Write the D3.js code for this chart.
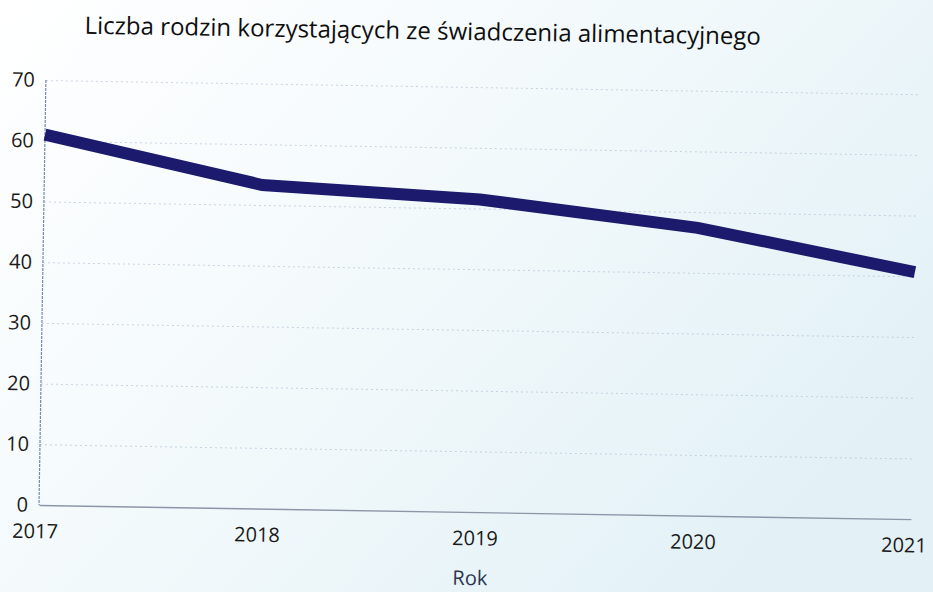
<!DOCTYPE html>
<html>
<head>
<meta charset="utf-8">
<script src="https://cdn.jsdelivr.net/npm/d3@7"></script>
<style>
  html, body { margin: 0; padding: 0; background: #ffffff; }
  svg { display: block; }
</style>
</head>
<body>
<svg id="chart" width="933" height="592"></svg>
<script>
// Number of families receiving the maintenance benefit, by year
const years = ["2017", "2018", "2019", "2020", "2021"];
const families = [61, 53.3, 51.5, 47.4, 40.7];
const yTicks = [0, 10, 20, 30, 40, 50, 60, 70];
const chartTitle = "Liczba rodzin korzystających ze świadczenia alimentacyjnego";
const xAxisTitle = "Rok";

const W = 933, H = 592;
const margin = { top: 80, right: 22, bottom: 87, left: 39 };
const tilt = 0.93; // the printed page sits slightly askew

const svg = d3.select("#chart");

// paper tint
const defs = svg.append("defs");
const grad = defs.append("linearGradient")
  .attr("id", "paper").attr("x1", "0").attr("y1", "0").attr("x2", "1").attr("y2", "0.6");
grad.append("stop").attr("offset", "0").attr("stop-color", "#ffffff");
grad.append("stop").attr("offset", "0.45").attr("stop-color", "#f4fafc");
grad.append("stop").attr("offset", "1").attr("stop-color", "#e3f1f6");
svg.append("rect").attr("width", W).attr("height", H).attr("fill", "url(#paper)");

const x = d3.scalePoint().domain(years).range([margin.left, W - margin.right]);
const y = d3.scaleLinear().domain([0, 70]).range([H - margin.bottom, margin.top]);

const g = svg.append("g")
  .attr("transform", `rotate(${tilt}, ${margin.left}, ${H - margin.bottom})`);

// horizontal dotted gridlines
const grid = g.append("g")
  .attr("transform", `translate(${margin.left},0)`)
  .call(d3.axisLeft(y).tickValues(yTicks.filter(v => v > 0))
    .tickSize(-(W - margin.left - margin.right)).tickFormat(""));
grid.select(".domain").remove();
grid.selectAll("line")
  .attr("stroke", "#a9bbd0").attr("stroke-width", 1)
  .attr("stroke-dasharray", "2,3").attr("opacity", 0.6);

// y axis labels
const yAxis = g.append("g")
  .attr("transform", `translate(${margin.left},0)`)
  .call(d3.axisLeft(y).tickValues(yTicks).tickSize(0).tickPadding(11));
yAxis.select(".domain").remove();
yAxis.selectAll("text")
  .attr("font-family", "'Open Sans', sans-serif").attr("font-size", 20)
  .attr("fill", "#1a1a1a");

// vertical axis line
g.append("line")
  .attr("x1", margin.left).attr("x2", margin.left)
  .attr("y1", y(70)).attr("y2", y(0))
  .attr("stroke", "#7288b6").attr("stroke-width", 1.2)
  .attr("stroke-dasharray", "3,1");

// x axis
const xAxis = g.append("g")
  .attr("transform", `translate(0,${y(0)})`)
  .call(d3.axisBottom(x).tickSize(0).tickPadding(19));
xAxis.select(".domain")
  .attr("stroke", "#8d96a8").attr("stroke-width", 1.4);
xAxis.selectAll("text")
  .attr("font-family", "'Open Sans', sans-serif").attr("font-size", 20)
  .attr("fill", "#1a1a1a")
  .attr("dx", (d, i) => i === 0 ? -4 : (i === years.length - 1 ? -7 : 0));

// data line
const line = d3.line()
  .x((d, i) => x(years[i]))
  .y(d => y(d));
g.append("path")
  .datum(families)
  .attr("d", line)
  .attr("fill", "none")
  .attr("stroke", "#1b1a6c")
  .attr("stroke-width", 12)
  .attr("stroke-linejoin", "miter");

// title
g.append("text")
  .attr("x", 415).attr("y", 33)
  .attr("text-anchor", "middle")
  .attr("font-family", "'Open Sans', sans-serif").attr("font-size", 24)
  .attr("font-weight", 500)
  .attr("fill", "#0e0e0e")
  .text(chartTitle);

// x axis title
g.append("text")
  .attr("x", 471).attr("y", 578)
  .attr("text-anchor", "middle")
  .attr("font-family", "'Open Sans', sans-serif").attr("font-size", 20)
  .attr("fill", "#2b3552")
  .text(xAxisTitle);
</script>
</body>
</html>
